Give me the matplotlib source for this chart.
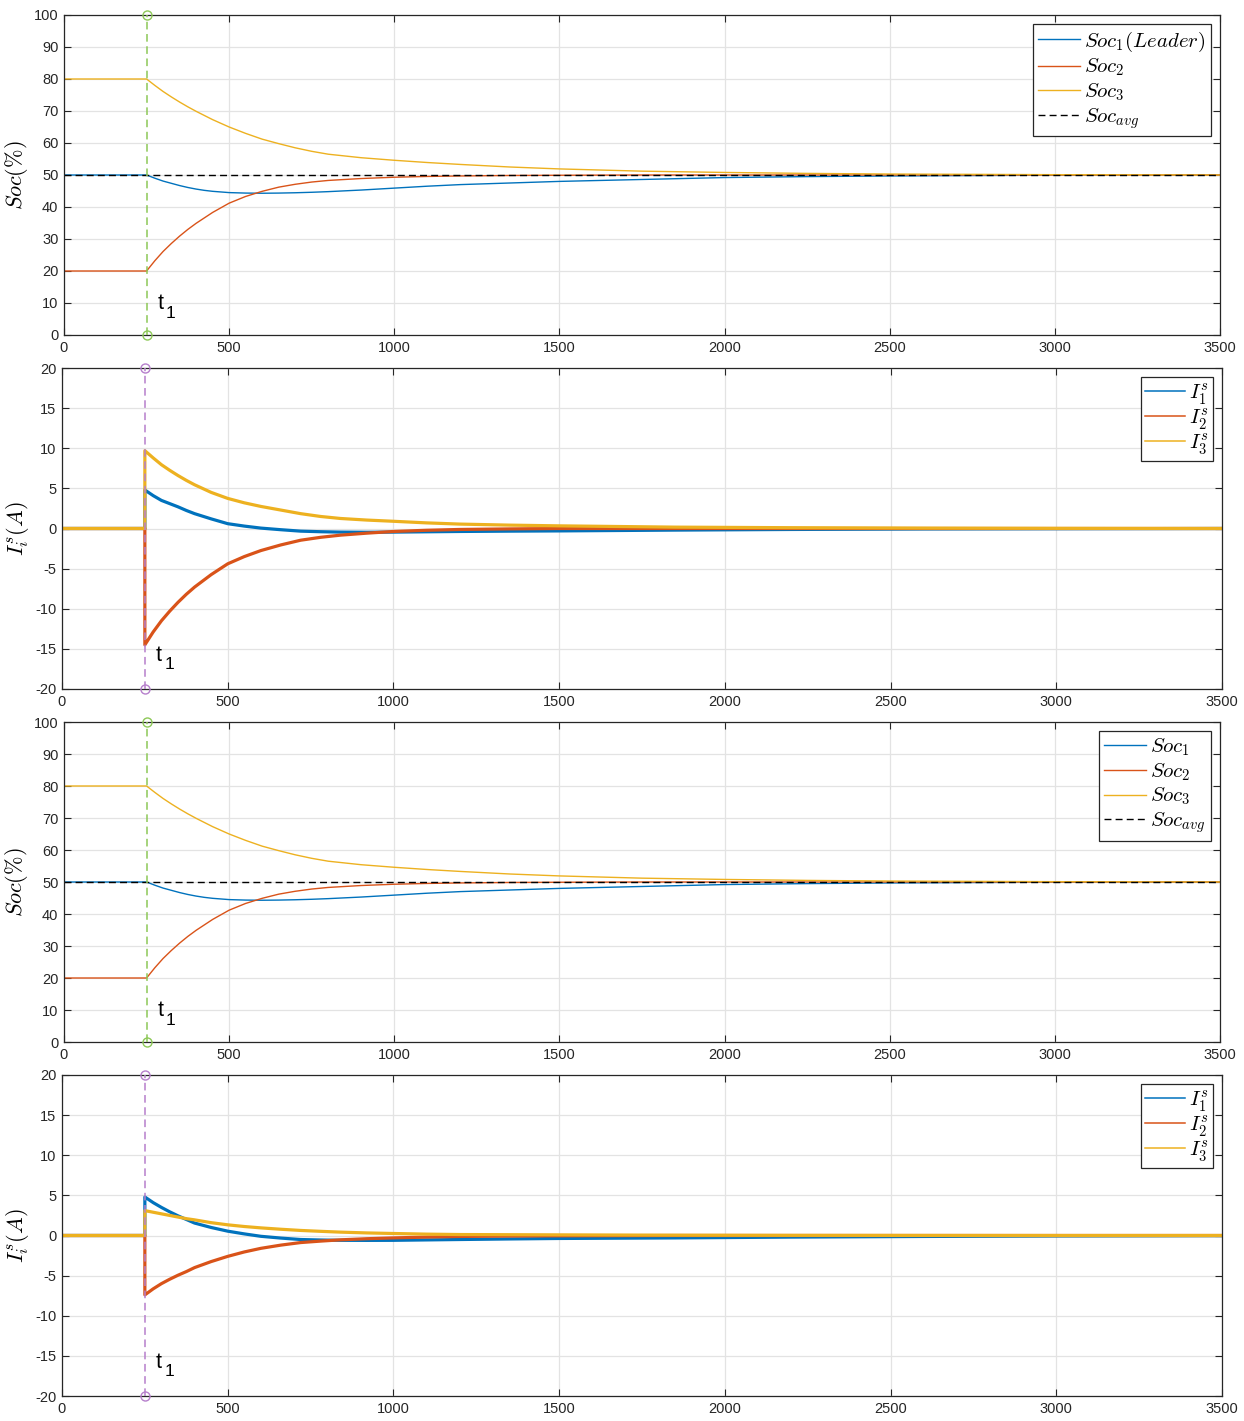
import matplotlib
matplotlib.use("Agg")
import matplotlib.pyplot as plt

plt.rcParams["font.family"] = ["Liberation Sans", "DejaVu Sans"]
plt.rcParams["mathtext.fontset"] = "cm"
plt.rcParams["axes.unicode_minus"] = False

# ---- time axis / event ----
t1 = 250
x_ticks = [0, 500, 1000, 1500, 2000, 2500, 3000, 3500]

# ---- state of charge (%) ----
t_soc = [0, 250, 275, 300, 325, 350, 375, 400, 425, 450, 500, 550, 600, 650, 700,
         750, 800, 900, 1000, 1100, 1200, 1350, 1500, 1750, 2000, 2250, 2500,
         3000, 3500]
soc1 = [50, 50, 49.0, 48.1, 47.4, 46.7, 46.1, 45.6, 45.2, 44.9, 44.5, 44.35, 44.3,
        44.35, 44.45, 44.6, 44.8, 45.3, 45.9, 46.5, 47.0, 47.5, 48.0, 48.6, 49.2,
        49.5, 49.7, 49.95, 50.0]
soc2 = [20, 20, 23.2, 26.1, 28.6, 30.9, 33.0, 34.9, 36.6, 38.3, 41.2, 43.3, 44.9,
        46.2, 47.1, 47.8, 48.3, 48.9, 49.3, 49.55, 49.7, 49.85, 49.92, 50.0, 50.0,
        50.0, 50.0, 50.0, 50.0]
soc3 = [80, 80, 78.0, 76.1, 74.4, 72.8, 71.3, 69.9, 68.6, 67.3, 65.0, 63.0, 61.2,
        59.8, 58.5, 57.4, 56.5, 55.4, 54.6, 53.9, 53.3, 52.5, 51.9, 51.2, 50.8,
        50.5, 50.3, 50.1, 50.0]
soc_avg = 50

# ---- storage currents (A) ----
t_cur = [0, 250, 250, 275, 300, 325, 350, 375, 400, 450, 500, 550, 600, 660, 720,
         780, 840, 920, 1000, 1100, 1200, 1350, 1500, 1850, 2200, 2600, 3000, 3500]
# leader-based scheme
i1_a = [0, 0, 4.8, 4.1, 3.5, 3.1, 2.7, 2.25, 1.85, 1.2, 0.6, 0.3, 0.05, -0.15,
        -0.33, -0.4, -0.45, -0.47, -0.45, -0.41, -0.37, -0.33, -0.3, -0.2, -0.12,
        -0.06, -0.03, 0]
i2_a = [0, 0, -14.5, -12.9, -11.5, -10.3, -9.2, -8.2, -7.3, -5.75, -4.4, -3.5,
        -2.75, -2.05, -1.46, -1.1, -0.83, -0.58, -0.37, -0.22, -0.12, -0.05, 0,
        0, 0, 0, 0, 0]
i3_a = [0, 0, 9.7, 8.8, 7.95, 7.25, 6.6, 6.0, 5.45, 4.5, 3.75, 3.2, 2.75, 2.3,
        1.85, 1.5, 1.25, 1.05, 0.9, 0.7, 0.55, 0.42, 0.33, 0.17, 0.1, 0.05,
        0.02, 0]
# second scheme
i1_b = [0, 0, 4.8, 4.1, 3.5, 2.95, 2.45, 2.0, 1.55, 1.0, 0.54, 0.2, -0.1, -0.32,
        -0.5, -0.56, -0.6, -0.61, -0.6, -0.55, -0.5, -0.43, -0.37, -0.3, -0.2,
        -0.12, -0.06, -0.02]
i2_b = [0, 0, -7.4, -6.65, -6.0, -5.45, -4.95, -4.5, -4.0, -3.25, -2.6, -2.05,
        -1.6, -1.2, -0.88, -0.7, -0.54, -0.4, -0.3, -0.2, -0.12, -0.07, -0.04,
        0, 0, 0, 0, 0]
i3_b = [0, 0, 3.1, 2.9, 2.7, 2.5, 2.3, 2.1, 1.95, 1.6, 1.33, 1.12, 0.95, 0.78,
        0.63, 0.52, 0.42, 0.32, 0.25, 0.17, 0.12, 0.1, 0.08, 0.04, 0.02, 0.01,
        0, 0]

C1, C2, C3 = "#0072BD", "#D95319", "#EDB120"
GREEN, PURPLE = "#8DC857", "#B67FCC"
EDGE = "#262626"

W, H = 1244, 1421
fig = plt.figure(figsize=(W / 100, H / 100), dpi=100)


def make_axes(left, top, right, bottom):
    return fig.add_axes([left / W, 1 - bottom / H, (right - left) / W, (bottom - top) / H])


def style(ax, ylim, yticks):
    ax.set_xlim(0, 3500)
    ax.set_ylim(*ylim)
    ax.set_xticks(x_ticks)
    ax.set_yticks(yticks)
    ax.grid(True, color="#e3e3e3", linewidth=0.9)
    ax.set_axisbelow(True)
    ax.tick_params(direction="in", top=True, right=True, length=5, width=0.8,
                   labelsize=10.5, colors=EDGE, pad=4)
    for s in ax.spines.values():
        s.set_color(EDGE)
        s.set_linewidth(0.9)


def t1_label(ax, y):
    ax.text(t1 + 33, y, "t", fontsize=15.5, color="black", va="baseline", ha="left")
    ax.annotate("1", xy=(t1 + 33, y), xytext=(6, -6), textcoords="offset points",
                fontsize=12.5, color="black", va="baseline", ha="left")


def frame(leg):
    leg.get_frame().set_edgecolor(EDGE)
    leg.get_frame().set_linewidth(0.9)


def event_line(ax, lo, hi, color):
    ax.plot([t1, t1], [lo, hi], color=color, lw=1.1, dashes=(5, 3),
            marker="o", markersize=6.5, markerfacecolor="none",
            markeredgewidth=1.0, clip_on=False, zorder=5)


def soc_panel(ax, first_label):
    ax.plot(t_soc, soc1, color=C1, lw=1.0, label=first_label)
    ax.plot(t_soc, soc2, color=C2, lw=1.0, label=r"$Soc_2$")
    ax.plot(t_soc, soc3, color=C3, lw=1.0, label=r"$Soc_3$")
    ax.plot([0, 3500], [soc_avg, soc_avg], color="black", lw=1.0,
            dashes=(5, 3), label=r"$Soc_{avg}$")
    event_line(ax, 0, 100, GREEN)
    style(ax, (0, 100), range(0, 101, 10))
    ax.set_ylabel(r"$Soc(\%)$", fontsize=16)
    ax.yaxis.set_label_coords(-0.029, 0.5)
    leg = ax.legend(loc="upper right", fontsize=15, handlelength=2.0,
                    handletextpad=0.2, borderpad=0.25, labelspacing=0.15,
                    fancybox=False, framealpha=1, borderaxespad=0.45)
    frame(leg)
    t1_label(ax, 8)


def cur_panel(ax, i1, i2, i3):
    ax.plot(t_cur, i1, color=C1, lw=2.3, label=r"$I_1^s$")
    ax.plot(t_cur, i2, color=C2, lw=2.3, label=r"$I_2^s$")
    ax.plot(t_cur, i3, color=C3, lw=2.3, label=r"$I_3^s$")
    event_line(ax, -20, 20, PURPLE)
    style(ax, (-20, 20), range(-20, 21, 5))
    ax.set_ylabel(r"$I_i^s(A)$", fontsize=16)
    ax.yaxis.set_label_coords(-0.027, 0.5)
    leg = ax.legend(loc="upper right", fontsize=15, handlelength=1.9,
                    handletextpad=0.2, borderpad=0.2, labelspacing=0.0,
                    fancybox=False, framealpha=1, borderaxespad=0.45)
    frame(leg)
    for line in leg.get_lines():
        line.set_linewidth(1.1)
    t1_label(ax, -16.5)


ax1 = make_axes(64, 15, 1220, 335)
soc_panel(ax1, r"$Soc_1(Leader)$")

ax2 = make_axes(62, 368, 1222, 689)
cur_panel(ax2, i1_a, i2_a, i3_a)

ax3 = make_axes(64, 722, 1220, 1042)
soc_panel(ax3, r"$Soc_1$")

ax4 = make_axes(62, 1075, 1222, 1396)
cur_panel(ax4, i1_b, i2_b, i3_b)

fig.savefig("out.png", dpi=100)
